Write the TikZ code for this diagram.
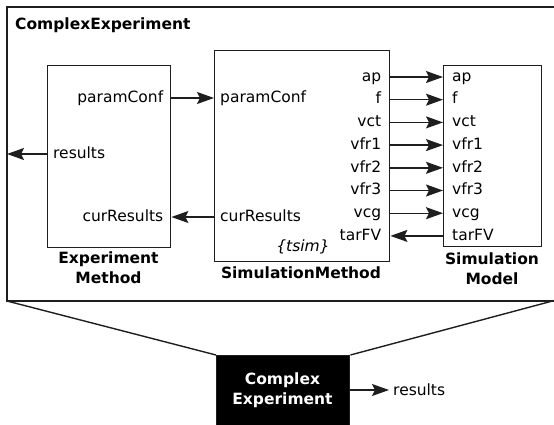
\documentclass[tikz,border=0pt]{standalone}
\usepackage{fontspec}
\setmainfont{DejaVu Sans}
\usetikzlibrary{arrows.meta}
\definecolor{ink}{HTML}{1E1E1E}
\tikzset{
  ln/.style={draw=ink, line width=1.4pt},
  arr/.style={ln, -{Stealth[length=17pt,width=12pt,inset=3pt]}},
  box/.style={ln, rectangle, inner sep=0pt, anchor=north west},
  port/.style={inner sep=0pt, font=\fontsize{15.5}{18}\selectfont},
  lbl/.style={inner sep=0pt, align=center, font=\fontsize{15.5}{20}\selectfont\bfseries},
}
\begin{document}
\begin{tikzpicture}[x=1pt,y=-1pt]
\useasboundingbox (0,0) rectangle (554,425);
\clip (0,0) rectangle (554,425);
% outer frame
\draw[ln] (560,7) -- (7,7) -- (7,301) -- (560,301);
\node[port, anchor=base west, font=\fontsize{15.5}{18}\selectfont\bfseries] (title) at (15,30) {ComplexExperiment};
% boxes
\node[box, minimum width=123pt, minimum height=182pt] (em) at (47,65) {};
\node[box, minimum width=175pt, minimum height=211pt] (sm) at (214,50) {};
\node[box, minimum width=98pt, minimum height=181pt] (mod) at (443,65) {};
% lower black box
\node[box, fill=black, minimum width=133pt, minimum height=80pt] (ce) at (216,355) {};
\node[lbl, text=white, anchor=center] (cet) at (282.5,390) {Complex\\Experiment};
\node[port, anchor=base west] (res2) at (393,395) {results};
\coordinate (cer) at (0,390);
\coordinate (cet2) at (389,390);
\draw[arr] (ce.east |- cer) -- (cet2);
% trapezoid
\draw[ln] (7,301) -- (ce.north west);
\draw[ln] (560,299) -- (ce.north east);
% labels under boxes
\node[lbl, anchor=center] (eml) at (108.5,268) {Experiment\\Method};
\node[lbl, anchor=center] (sml) at (301,273) {SimulationMethod};
\node[lbl, anchor=center] (modl) at (492,269) {Simulation\\Model};
% EM ports
\coordinate (rpc) at (0,98);
\coordinate (rres) at (0,154);
\coordinate (rcr) at (0,217);
\node[port, anchor=base east] (empc) at ([xshift=-8pt,yshift=-4.3pt]em.east |- rpc) {paramConf};
\node[port, anchor=base west] (emres) at ([xshift=6pt,yshift=-4.3pt]em.west |- rres) {results};
\node[port, anchor=base east] (emcr) at ([xshift=-8pt,yshift=-4.3pt]em.east |- rcr) {curResults};
\coordinate (outres) at (7,154);
% SM left ports
\node[port, anchor=base west] (smpc) at ([xshift=6pt,yshift=-4.3pt]sm.west |- rpc) {paramConf};
\node[port, anchor=base west] (smcr) at ([xshift=6pt,yshift=-4.3pt]sm.west |- rcr) {curResults};
\node[port, anchor=center, font=\fontsize{15.5}{18}\selectfont\itshape] (tsim) at (303,247) {\{tsim\}};
% connectors left
\draw[arr] (em.east |- rpc) -- (sm.west |- rpc);
\draw[arr] (sm.west |- rcr) -- (em.east |- rcr);
\draw[arr] (em.west |- rres) -- (outres);
% SM <-> Model ports
\foreach \nm/\yy [count=\i] in {ap/77,f/99.7,vct/122.4,vfr1/145.1,vfr2/167.8,vfr3/190.5,vcg/213.2,tarFV/235.9}{
  \coordinate (r\i) at (0,\yy);
  \node[port, anchor=base east] (sp\i) at ([xshift=-9pt,yshift=-4.3pt]sm.east |- r\i) {\nm};
  \node[port, anchor=base west] (mp\i) at ([xshift=9pt,yshift=-4.3pt]mod.west |- r\i) {\nm};
}
\foreach \i in {1,...,7}{
  \draw[arr] (sm.east |- r\i) -- (mod.west |- r\i);
}
\draw[arr] (mod.west |- r8) -- (sm.east |- r8);
\end{tikzpicture}
\end{document}
